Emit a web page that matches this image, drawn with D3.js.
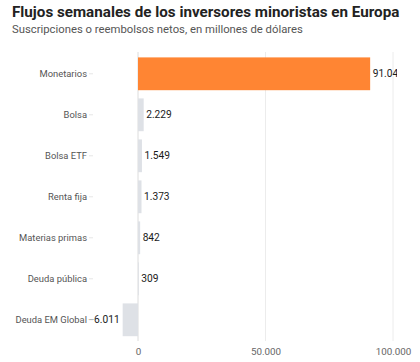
<!DOCTYPE html>
<html>
<head>
<meta charset="utf-8">
<script src="https://cdn.jsdelivr.net/npm/d3@7"></script>
<style>
  body { margin: 0; background: #fff; font-family: Roboto, "Noto Sans", sans-serif; }
</style>
</head>
<body>
<div id="chart"></div>
<script>
var categories = ['Monetarios', 'Bolsa', 'Bolsa ETF', 'Renta fija', 'Materias primas', 'Deuda pública', 'Deuda EM Global'];
var values = [91042, 2229, 1549, 1373, 842, 309, -6011];
var tickValues = [0, 50000, 100000];

var width = 420, height = 362;
var fmt = d3.formatLocale({ decimal: ',', thousands: '.', grouping: [3], currency: ['', ''] }).format(',d');

var svg = d3.select('#chart').append('svg')
    .attr('width', width)
    .attr('height', height);

// title + subtitle
svg.append('text')
    .attr('x', 12).attr('y', 17)
    .style('font-size', '15.2px').style('font-weight', 'bold').style('fill', '#222')
    .text('Flujos semanales de los inversores minoristas en Europa');
svg.append('text')
    .attr('x', 12).attr('y', 33)
    .style('font-size', '11.3px').style('fill', '#555')
    .text('Suscripciones o reembolsos netos, en millones de dólares');

var x = d3.scaleLinear()
    .domain([0, 50000])
    .range([138, 265.5]);

var y = d3.scaleBand()
    .domain(categories)
    .range([53.3, 340.3])
    .paddingInner(0.2)
    .paddingOuter(0.1);

// gridlines
svg.append('g').selectAll('line')
    .data(tickValues)
  .enter().append('line')
    .attr('x1', function(d) { return x(d); })
    .attr('x2', function(d) { return x(d); })
    .attr('y1', 52).attr('y2', 341)
    .attr('stroke', function(d) { return d == 0 ? '#dcdcdc' : '#ececec'; })
    .attr('stroke-width', 1);

// bars
svg.selectAll('.bar')
    .data(categories)
  .enter().append('rect')
    .attr('class', 'bar')
    .attr('x', function(d, i) { return x(Math.min(0, values[i])); })
    .attr('width', function(d, i) { return Math.abs(x(values[i]) - x(0)); })
    .attr('y', function(d) { return y(d); })
    .attr('height', y.bandwidth())
    .attr('fill', function(d, i) { return i == 0 ? '#ff8533' : '#dee1e6'; });

// value labels (clipped at the right edge like the original)
svg.append('clipPath').attr('id', 'clip')
  .append('rect').attr('x', 0).attr('y', 0).attr('width', 397).attr('height', height);

svg.append('g').attr('clip-path', 'url(#clip)')
  .selectAll('text')
    .data(categories)
  .enter().append('text')
    .attr('x', function(d, i) { return values[i] < 0 ? x(values[i]) - 3 : x(values[i]) + 2.5; })
    .attr('y', function(d) { return y(d) + y.bandwidth() / 2; })
    .attr('dy', '0.35em')
    .style('text-anchor', function(d, i) { return values[i] < 0 ? 'end' : 'start'; })
    .style('font-size', '10.2px')
    .style('fill', '#1a1a1a')
    .text(function(d, i) { return fmt(values[i]); });

// y axis (category labels)
var yAxis = svg.append('g')
    .attr('transform', 'translate(93,0)')
    .call(d3.axisLeft(y).tickSize(4).tickPadding(2));
yAxis.select('.domain').remove();
yAxis.selectAll('line').attr('stroke', '#e6e6e6');
yAxis.selectAll('text')
    .style('font-family', 'Roboto, sans-serif')
    .style('font-size', '9.4px')
    .style('fill', '#555');

// x axis
var xAxis = svg.append('g')
    .attr('transform', 'translate(0,341)')
    .call(d3.axisBottom(x).tickValues(tickValues).tickSize(0).tickPadding(7).tickFormat(fmt));
xAxis.select('.domain').remove();
xAxis.selectAll('text')
    .style('font-family', 'Roboto, sans-serif')
    .style('font-size', '9.8px')
    .style('fill', '#666');
</script>
</body>
</html>
